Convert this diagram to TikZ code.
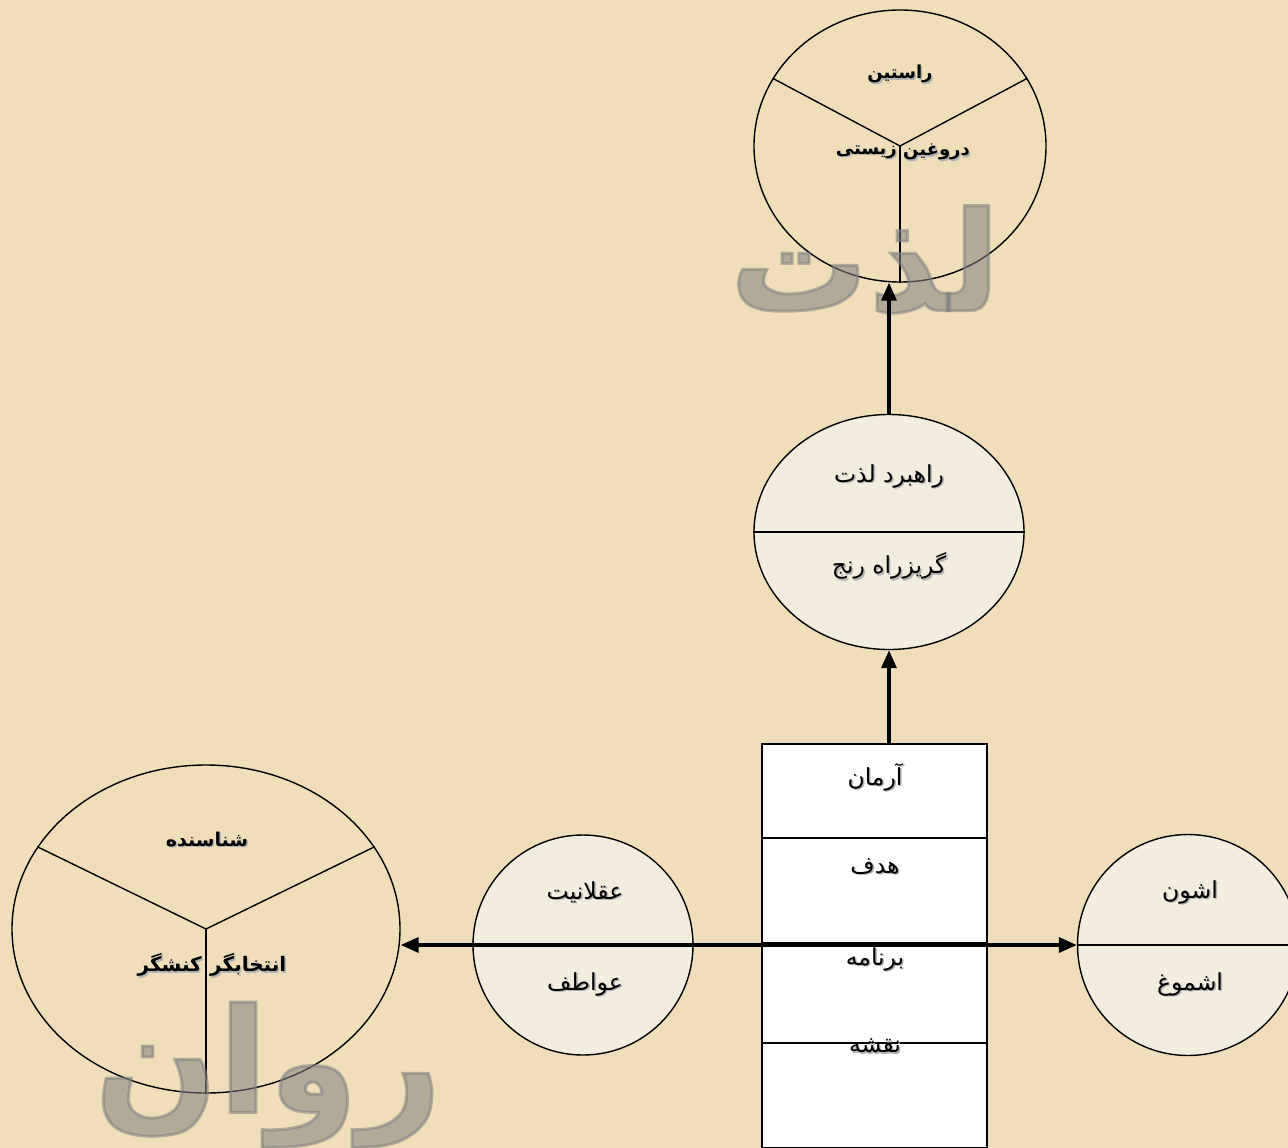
\documentclass[tikz,border=0pt]{standalone}
\usepackage{fontspec}
\usetikzlibrary{shapes.geometric,arrows.meta}
\TeXXeTstate=1
\newfontfamily\arabicfont[Script=Arabic]{DejaVu Sans}

\definecolor{parchment}{HTML}{EFDEB9}
\definecolor{cream}{HTML}{F3EDDF}

% right-to-left text with a soft drop shadow
\newcommand\fa[1]{\leavevmode\rlap{\kern1.5pt\raise-1.5pt\hbox{\color{black!30}\beginR#1\endR}}\beginR#1\endR}
% large hollow lettering: glyphs filled and stroked (text render mode 2)
\newcommand\hollow[1]{\special{pdf:literal direct 2 Tr 3 w}\beginR#1\endR\special{pdf:literal direct 0 Tr}}

\tikzset{
  ring/.style={draw, ellipse, line width=1.4, inner sep=0},
  txt/.style={inner sep=0, font=\arabicfont\fontsize{23.5}{28}\selectfont},
  btxt/.style={inner sep=0, font=\arabicfont\bfseries\fontsize{#1}{22}\selectfont},
  btxt/.default=18,
  ghost/.style={inner sep=0, text=black!50, opacity=0.55,
    font=\arabicfont\bfseries\fontsize{#1}{#1}\selectfont},
  flow/.style={line width=3.5, -{Triangle[length=18,width=15]}},
  divider/.style={line width=1.4},
}

\begin{document}
\begin{tikzpicture}[x=1pt, y=-1pt]
\fill[parchment] (0,0) rectangle (1288,1148);
\useasboundingbox (0,0) rectangle (1288,1148);
\clip (0,0) rectangle (1288,1148);

% ---- pleasure circle (top) ----
\node[ring, minimum width=292, minimum height=272] (pleasure) at (900,146) {};
\draw[divider] (pleasure.center) -- (pleasure.152);
\draw[divider] (pleasure.center) -- (pleasure.28);
\draw[divider] (pleasure.center) -- (pleasure.south);
\node[btxt] (rastin) at (900,75) {\fa{راستین}};
\node[btxt, anchor=west] (doroghin) at (903,153) {\fa{دروغین}};
\node[btxt, anchor=east] (zisti) at (897,153) {\fa{زیستی}};

% ---- strategy ellipse ----
\node[ring, fill=cream, minimum width=270, minimum height=235] (strategy) at (889,532) {};
\draw[divider] (strategy.west) -- (strategy.east);
\node[txt] (rahbord) at (889,477) {\fa{راهبرد لذت}};
\node[txt] (gorizrah) at (889,567) {\fa{گریزراه رنج}};

% ---- plan column ----
\node[draw, fill=white, line width=1.8, inner sep=0, anchor=north west,
      minimum width=225, minimum height=404] (plan) at (761,743) {};
\draw[divider] (plan.west |- 0,838) -- (plan.east |- 0,838);
\draw[divider] (plan.west |- 0,943) -- (plan.east |- 0,943);
\draw[divider] (plan.west |- 0,1043) -- (plan.east |- 0,1043);
\node[txt] (arman) at (875,778) {\fa{آرمان}};
\node[txt] (hadaf) at (875,867) {\fa{هدف}};
\node[txt] (barname) at (875,960) {\fa{برنامه}};
\node[txt] (naghshe) at (875,1047) {\fa{نقشه}};

% ---- reason / emotion circle ----
\node[ring, fill=cream, minimum width=220, minimum height=220] (reason) at (583,945) {};
\node[txt] (aghlaniyat) at (585,893) {\fa{عقلانیت}};
\node[txt] (avatef) at (585,985) {\fa{عواطف}};

% ---- ashun / ashmugh circle ----
\node[ring, fill=cream, minimum width=221, minimum height=221] (ashun) at (1188,945) {};
\draw[divider] (ashun.west) -- (ashun.east);
\node[txt] (ashunt) at (1190,893) {\fa{اشون}};
\node[txt] (ashmugh) at (1190,985) {\fa{اشموغ}};

% ---- psyche circle (left) ----
\node[ring, minimum width=388, minimum height=328] (psyche) at (206,929) {};
\draw[divider] (psyche.center) -- (psyche.154);
\draw[divider] (psyche.center) -- (psyche.26);
\draw[divider] (psyche.center) -- (psyche.south);
\node[btxt=19] (shenasande) at (207,840) {\fa{شناسنده}};
\node[btxt=20, anchor=west] (entekhabgar) at (210,966) {\fa{انتخابگر}};
\node[btxt=20, anchor=east] (koneshgar) at (202,966) {\fa{کنشگر}};

% ---- large hollow titles ----
\node[ghost=138] (lezzat) at (865,260) {\hollow{لذت}};
\node[ghost=145] (ravan) at (268,1075) {\hollow{روان}};

% ---- connectors ----
\draw[flow] (strategy.south |- plan.north) -- (strategy.south);
\draw[flow] (strategy.north) -- (strategy.north |- pleasure.south);
\draw[flow, {Triangle[length=18,width=15]}-{Triangle[length=18,width=15]}]
  (psyche.east |- reason.center) -- (ashun.west);
\end{tikzpicture}
\end{document}
